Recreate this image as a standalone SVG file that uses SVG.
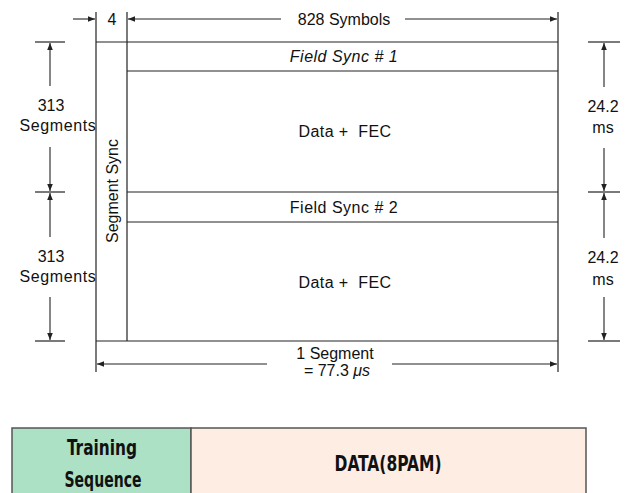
<svg xmlns="http://www.w3.org/2000/svg" width="627" height="493" viewBox="0 0 627 493">
<style>
.ln{stroke:#222;stroke-width:1.2;fill:none}
.ar{stroke:#222;stroke-width:1.1;fill:none;marker-end:url(#ah)}
.t{font-family:"Liberation Sans",Arial,sans-serif;font-size:16px;fill:#111}
.c{text-anchor:middle}
.b{font-family:"Liberation Sans Narrow","DejaVu Sans Condensed",sans-serif;font-weight:bold;font-size:21px;fill:#111;text-anchor:middle}
</style>
<defs>
<marker id="ah" viewBox="0 0 10 10" refX="10" refY="5" markerWidth="9" markerHeight="7" markerUnits="userSpaceOnUse" orient="auto">
<path d="M0,1 L10,5 L0,9 Z" fill="#222"/>
</marker>
</defs>
<rect width="627" height="493" fill="#fff"/>
<g id="frame">
<line class="ln" x1="96" y1="12" x2="96" y2="372"/>
<line class="ln" x1="127" y1="12" x2="127" y2="341"/>
<line class="ln" x1="558" y1="12" x2="558" y2="372"/>
<line class="ln" x1="96" y1="42" x2="558" y2="42"/>
<line class="ln" x1="96" y1="341" x2="558" y2="341"/>
</g>
<g id="field-sync-1">
<line class="ln" x1="127" y1="71" x2="558" y2="71"/>
<text class="t c" x="344" y="62" font-style="italic" letter-spacing="0.5">Field Sync # 1</text>
</g>
<g id="data-fec-1"><text class="t c" x="345" y="137" xml:space="preserve" letter-spacing="0.4">Data +  FEC</text></g>
<g id="field-sync-2">
<line class="ln" x1="127" y1="192" x2="558" y2="192"/>
<line class="ln" x1="127" y1="222" x2="558" y2="222"/>
<text class="t c" x="344" y="213" letter-spacing="0.5">Field Sync # 2</text>
</g>
<g id="data-fec-2"><text class="t c" x="345" y="288" xml:space="preserve" letter-spacing="0.4">Data +  FEC</text></g>
<g id="segment-sync"><text class="t c" transform="translate(118,191) rotate(-90)">Segment Sync</text></g>
<g id="connectors">
<line class="ar" x1="73" y1="19" x2="95" y2="19"/>
<line class="ar" x1="281" y1="19" x2="128" y2="19"/>
<line class="ar" x1="405" y1="19" x2="557" y2="19"/>
<line class="ln" x1="35" y1="42" x2="65" y2="42"/>
<line class="ln" x1="35" y1="192" x2="65" y2="192"/>
<line class="ln" x1="35" y1="341" x2="65" y2="341"/>
<line class="ar" x1="50" y1="86" x2="50" y2="43"/>
<line class="ar" x1="50" y1="147" x2="50" y2="191"/>
<line class="ar" x1="50" y1="237" x2="50" y2="193"/>
<line class="ar" x1="50" y1="297" x2="50" y2="340"/>
<line class="ln" x1="588" y1="42" x2="620" y2="42"/>
<line class="ln" x1="588" y1="192" x2="620" y2="192"/>
<line class="ln" x1="588" y1="341" x2="620" y2="341"/>
<line class="ar" x1="604" y1="87" x2="604" y2="43"/>
<line class="ar" x1="604" y1="148" x2="604" y2="191"/>
<line class="ar" x1="604" y1="238" x2="604" y2="193"/>
<line class="ar" x1="604" y1="297" x2="604" y2="340"/>
<line class="ar" x1="267" y1="364" x2="97" y2="364"/>
<line class="ar" x1="392" y1="364" x2="557" y2="364"/>
</g>
<g id="labels">
<text class="t c" x="112" y="25">4</text>
<text class="t c" x="344" y="25">828 Symbols</text>
<text class="t c" x="51" y="111">313</text>
<text class="t c" x="58" y="131" letter-spacing="0.6">Segments</text>
<text class="t c" x="51" y="262">313</text>
<text class="t c" x="58" y="282" letter-spacing="0.6">Segments</text>
<text class="t c" x="603" y="112">24.2</text>
<text class="t c" x="603" y="133">ms</text>
<text class="t c" x="603" y="263">24.2</text>
<text class="t c" x="603" y="285">ms</text>
<text class="t c" x="335" y="359">1 Segment</text>
<text class="t c" x="337" y="376">= 77.3 <tspan font-style="italic">μs</tspan></text>
</g>
<g id="training-sequence">
<rect x="12" y="428" width="179" height="80" fill="#ADE1C5" stroke="#555" stroke-width="1.5"/>
<text class="b" x="102" y="455" textLength="70" lengthAdjust="spacingAndGlyphs">Training</text>
<text class="b" x="103" y="487" textLength="77" lengthAdjust="spacingAndGlyphs">Sequence</text>
</g>
<g id="data-8pam">
<rect x="191" y="428" width="395" height="80" fill="#FDEDE3" stroke="#555" stroke-width="1.5"/>
<text class="b" x="388" y="471" textLength="107" lengthAdjust="spacingAndGlyphs">DATA(8PAM)</text>
</g>
</svg>
